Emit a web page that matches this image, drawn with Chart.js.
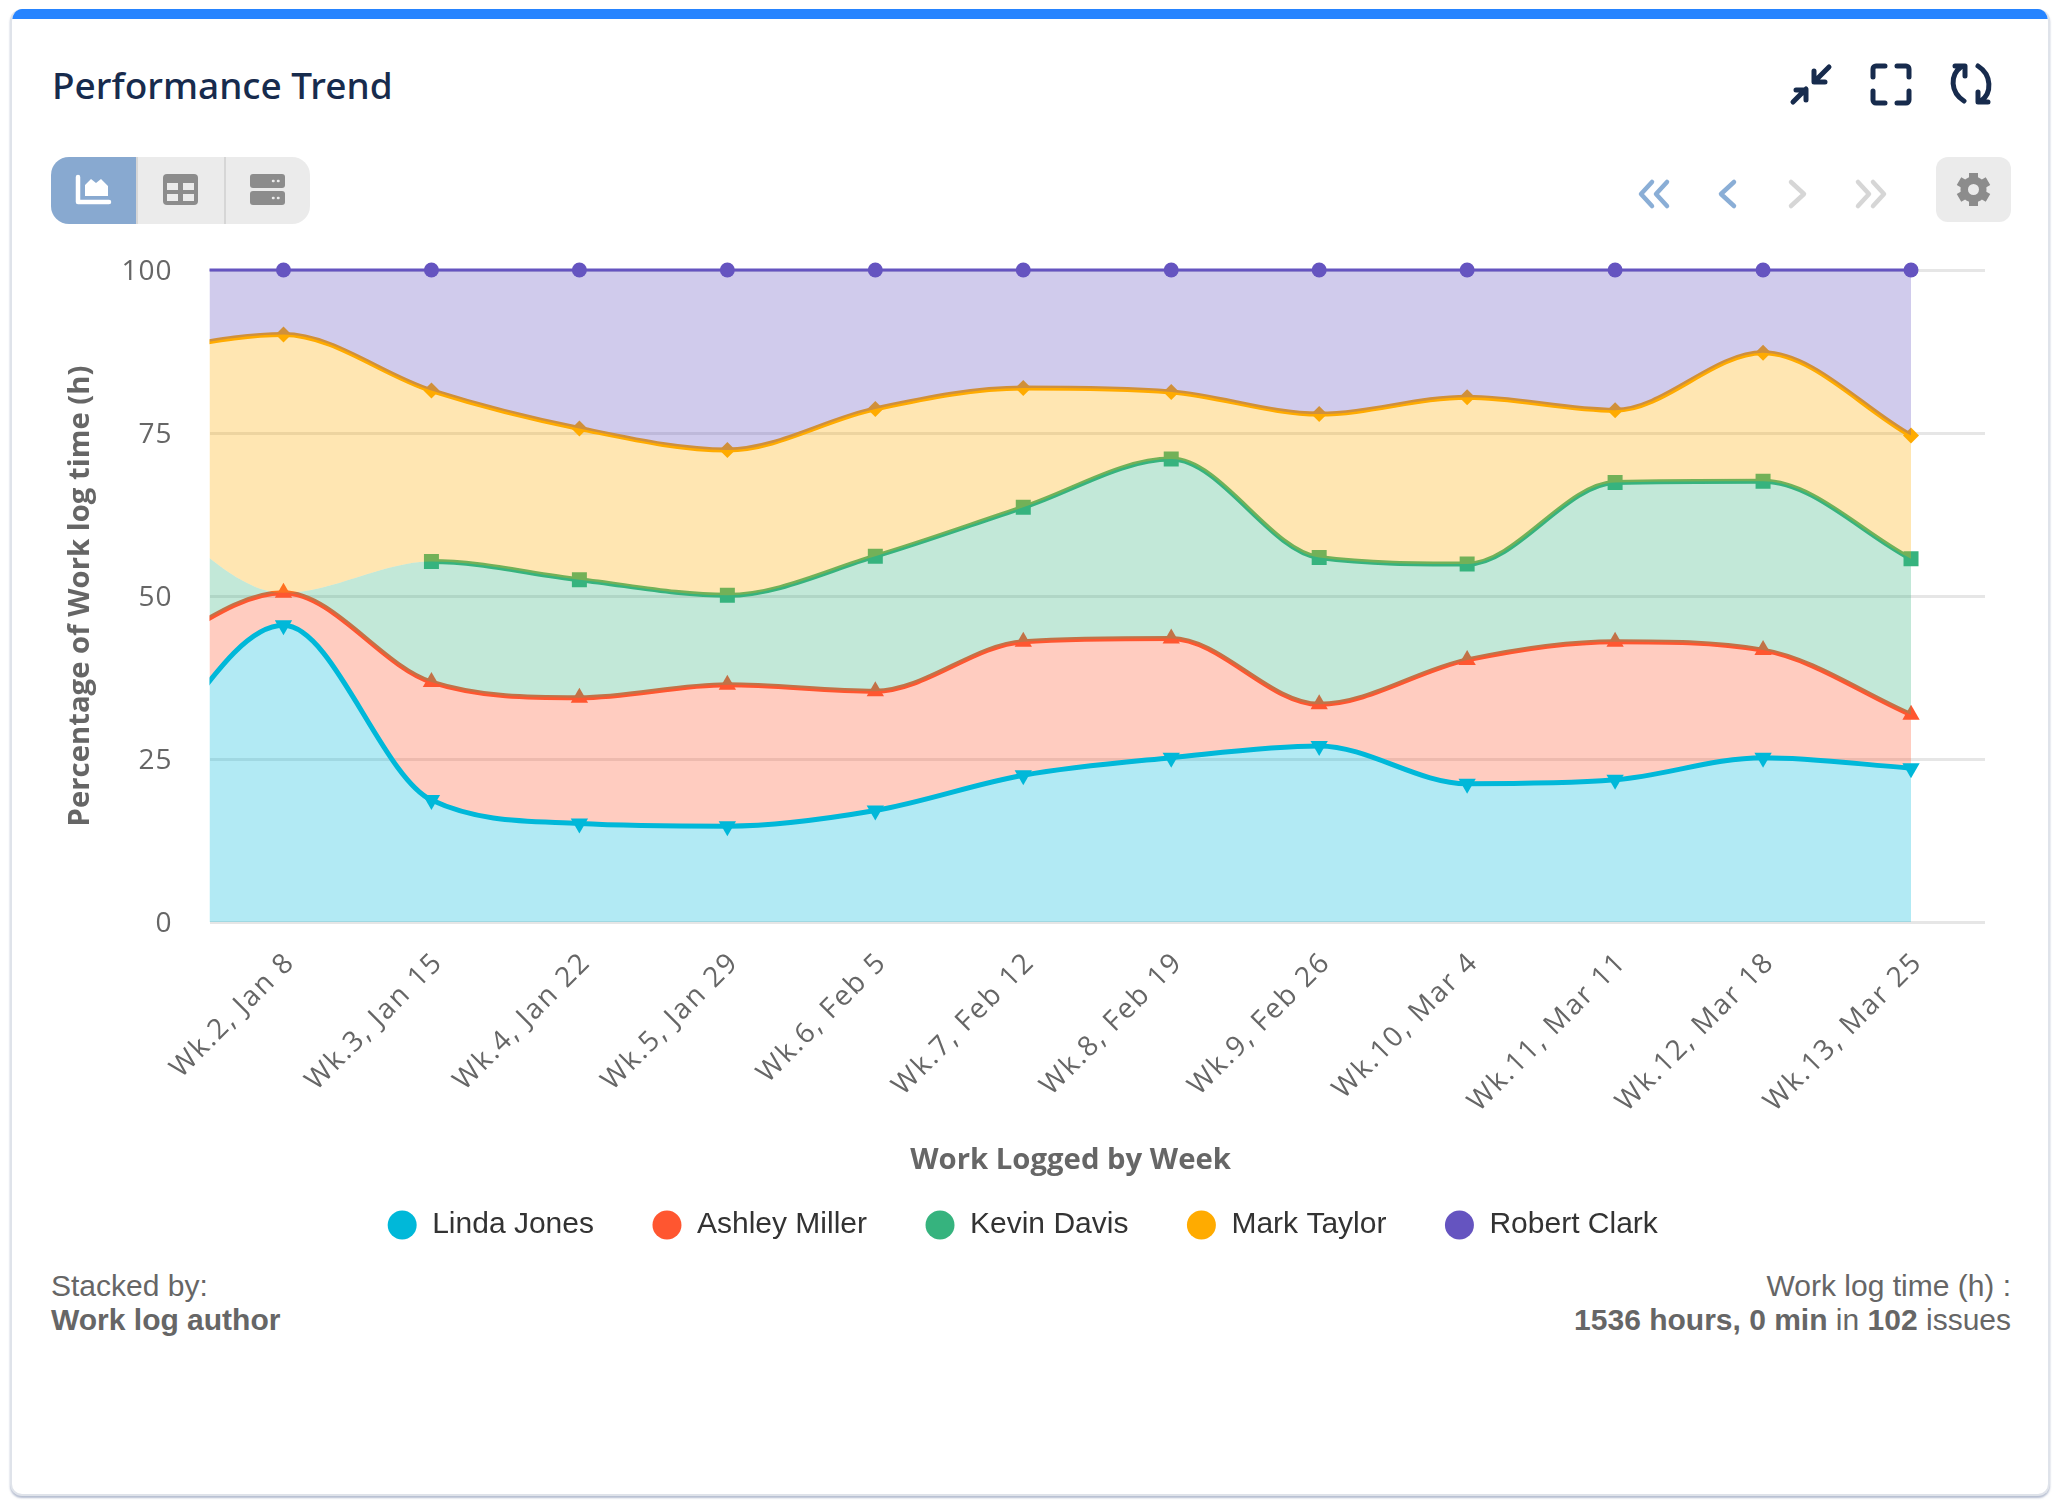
<!DOCTYPE html>
<html>
<head>
<meta charset="utf-8">
<title>Performance Trend</title>
<script src="https://cdn.jsdelivr.net/npm/chart.js@4/dist/chart.umd.min.js"></script>
<style>
  html, body { margin: 0; padding: 0; background: #fff; width: 2062px; height: 1508px; overflow: hidden; }
  body { position: relative; font-family: "Liberation Sans", Arial, sans-serif; }
  .card { position: absolute; left: 10px; top: 9px; width: 2040px; height: 1487px; box-sizing: border-box;
    background: #fff; border: 2px solid #dfe3ea; border-top: 0; border-radius: 12px; overflow: hidden;
    box-shadow: 0 2px 2px rgba(120,135,170,.55); }
  .card .band { height: 10px; background: #2684ff; margin: 0 -2px; }
  h1 { position: absolute; left: 52px; top: 60px; margin: 0; font: 500 37px/50px "Noto Sans", sans-serif; color: #172b4d; }
  .abs { position: absolute; }
  .seg { position: absolute; top: 157px; height: 67px; background: #ebebeb; box-sizing: border-box; }
  .foot { position: absolute; top: 1269px; font-size: 30px; line-height: 34px; color: #666; }
  #chart { position: absolute; left: 0; top: 0; }
</style>
</head>
<body>
<div class="card"><div class="band"></div></div>
<h1>Performance Trend</h1>

<div class="seg" style="left:51px;width:85px;background:#88a9d0;border-radius:18px 0 0 18px"></div>
<div class="seg" style="left:136px;width:88px;border-left:2px solid #d6d6d6"></div>
<div class="seg" style="left:224px;width:86px;border-left:2px solid #d6d6d6;border-radius:0 18px 18px 0"></div>
<div class="seg" style="left:1936px;width:75px;height:65px;border-radius:12px"></div>

<svg class="abs" style="left:0;top:0" width="2062" height="260" fill="none" stroke-linecap="round" stroke-linejoin="round">
  <!-- view switch -->
  <path d="M78 177v25h31" stroke="#fff" stroke-width="4.5"/>
  <path d="M85 196v-11l6-6 5 4 5-4 7 7v10z" fill="#fff"/>
  <rect x="163" y="174" width="35" height="31" rx="4" fill="#8c8c8c"/>
  <path d="M167 183h11v7h-11zM183 183h11v7h-11zM167 194h11v7h-11zM183 194h11v7h-11z" fill="#ebebeb"/>
  <rect x="250" y="174" width="35" height="14" rx="3" fill="#8c8c8c"/>
  <rect x="250" y="191" width="35" height="14" rx="3" fill="#8c8c8c"/>
  <path d="M273 181h.5M278 181h.5M273 198h.5M278 198h.5" stroke="#ebebeb" stroke-width="2.5"/>
  <!-- window icons -->
  <g stroke="#172b4d" stroke-width="5">
    <path d="M1829 67l-14 14M1814 71v11h11M1793 102l13-13M1806 100V90h-10" />
    <path d="M1873 77v-8a3 3 0 0 1 3-3h9M1897 66h9a3 3 0 0 1 3 3v8M1909 91v9a3 3 0 0 1-3 3h-9M1885 103h-9a3 3 0 0 1-3-3v-9"/>
    <path d="M1964 101c-14-9-14-26-3-34M1955 66h10v10M1978 66c14 9 14 27 3 35M1988 102h-10V92"/>
  </g>
  <!-- paging -->
  <g stroke-width="4.5">
    <path d="M1652 182l-11 12 11 12M1667 182l-11 12 11 12M1734 182l-13 12 13 12" stroke="#8aaed6"/>
    <path d="M1791 182l13 12-13 12M1858 182l11 12-11 12M1873 182l11 12-11 12" stroke="#d6d6d6"/>
  </g>
  <!-- settings -->
  <g stroke="#8c8c8c" stroke-width="9" stroke-linecap="butt">
    <path d="M1973.5 173v33M1959 181.200l29 16.600M1959 197.800l29-16.600"/>
  </g>
  <circle cx="1973.500" cy="189.500" r="13" fill="#8c8c8c"/>
  <circle cx="1973.500" cy="189.500" r="5.500" fill="#ebebeb"/>
</svg>

<canvas id="chart" width="2062" height="1250"></canvas>

<div class="foot" style="left:51px">Stacked by:<br><b>Work log author</b></div>
<div class="foot" style="right:51px;text-align:right">Work log time (h) :<br><b>1536 hours, 0 min</b> in <b>102</b> issues</div>

<script>
// first week is off the left edge of the plot, only its curve shows
const weeks = ['Wk.1, Jan 1', 'Wk.2, Jan 8', 'Wk.3, Jan 15', 'Wk.4, Jan 22', 'Wk.5, Jan 29', 'Wk.6, Feb 5', 'Wk.7, Feb 12',
  'Wk.8, Feb 19', 'Wk.9, Feb 26', 'Wk.10, Mar 4', 'Wk.11, Mar 11', 'Wk.12, Mar 18', 'Wk.13, Mar 25'];

// share of the week's logged time, percent
const lindaJones   = [22.8, 45.5, 18.7, 15.1, 14.7, 17.1, 22.5, 25.2, 27.0, 21.2, 21.8, 25.2, 23.6];
const ashleyMiller = [17.4,  5.0, 18.1, 19.3, 21.7, 18.3, 20.5, 18.3,  6.4, 19.0, 21.2, 16.5,  8.2];
const kevinDavis   = [24.5,  0.0, 18.5, 18.1, 13.7, 20.7, 20.6, 27.5, 22.5, 14.7, 24.4, 25.9, 23.9];
const markTaylor   = [22.5, 39.6, 26.2, 23.2, 22.3, 22.6, 18.3, 10.3, 22.0, 25.6, 11.1, 19.7, 18.9];
const robertClark  = [12.8,  9.9, 18.5, 24.3, 27.6, 21.3, 18.1, 18.7, 22.1, 19.5, 21.5, 12.7, 25.4];

const authors = ['Linda Jones', 'Ashley Miller', 'Kevin Davis', 'Mark Taylor', 'Robert Clark'];
const yTicks = [0, 25, 50, 75, 100];

const TICK_FONT = '"Open Sans", sans-serif';
const seriesValues = [lindaJones, ashleyMiller, kevinDavis, markTaylor, robertClark];
const colors = ['#00b8d9', '#ff5630', '#36b37e', '#ffab00', '#6554c0'];
const fills = ['rgba(0,184,217,.3)', 'rgba(255,86,48,.3)', 'rgba(54,179,126,.3)', 'rgba(255,171,0,.3)', 'rgba(101,84,192,.3)'];
const markers = ['triangle', 'triangle', 'rect', 'rectRot', 'circle'];
const markerSize = [10, 10, 10.6, 8, 7.5];
// higher is painted first: Ashley goes under Linda, the rest climb upwards
const paintOrder = [5, 6, 3, 2, 1];

// Kevin logged nothing until week 3, so his stroke only starts there
function kevinStroke(c) {
  const { chart } = c;
  if (!chart.chartArea) return colors[2];
  const x = chart.scales.x.getPixelForValue(2);
  const g = chart.ctx.createLinearGradient(x - 1, 0, x + 1, 0);
  g.addColorStop(0, 'rgba(54,179,126,0)');
  g.addColorStop(1, colors[2]);
  return g;
}

// tick text in the screenshot runs wider than the font and sits a bit off
function tweakLabels(scale, spacing, dx, dy) {
  if (scale._tweaked) return;
  scale._tweaked = true;
  const draw = scale.drawLabels;
  scale.drawLabels = function (area) {
    const ctx = this.ctx;
    ctx.save();
    ctx.letterSpacing = spacing;
    ctx.translate(dx, dy);
    draw.call(this, area);
    ctx.restore();
  };
}

// running total per week, so each author sits on the ones below.
// not using stacked:true because stacking follows draw order and the
// upper fills have to be painted over the lower lines
const running = weeks.map(() => 0);
const datasets = seriesValues.map((values, i) => {
  const data = values.map((v, w) => {
    running[w] += v;
    return +running[w].toFixed(1);
  });
  return {
    label: authors[i],
    data,
    order: paintOrder[i],
    borderColor: i === 2 ? kevinStroke : colors[i],
    backgroundColor: fills[i],
    borderWidth: i === 4 ? 3 : 5,
    fill: i === 0 ? 'origin' : '-1',
    cubicInterpolationMode: 'monotone',
    pointStyle: markers[i],
    pointRotation: i === 0 ? 180 : 0,
    pointRadius: (c) => (i === 2 && c.dataIndex <= 1) ? 0 : markerSize[i],
    pointBackgroundColor: colors[i],
    pointBorderWidth: 0,
    clip: i === 4 ? { left: 0, right: 0, top: 9, bottom: 0 } : 0
  };
});

new Chart(document.getElementById('chart'), {
  type: 'line',
  data: { labels: weeks, datasets },
  options: {
    responsive: false,
    devicePixelRatio: 1,
    animation: false,
    layout: { autoPadding: false, padding: { left: 60, right: 77, top: 270, bottom: 0 } },
    plugins: {
      tooltip: { enabled: false },
      legend: {
        position: 'bottom',
        labels: {
          usePointStyle: true,
          pointStyle: 'circle',
          boxWidth: 30,
          boxHeight: 20.5,
          padding: 58,
          color: '#333',
          font: { family: '"Liberation Sans", Arial, sans-serif', size: 30 },
          sort: (a, b) => a.datasetIndex - b.datasetIndex,
          generateLabels: (chart) => Chart.defaults.plugins.legend.labels.generateLabels(chart).map((item) => ({
            ...item,
            fillStyle: colors[item.datasetIndex],
            strokeStyle: colors[item.datasetIndex],
            lineWidth: 0
          }))
        }
      }
    },
    scales: {
      x: {
        min: weeks[1],
        offset: true,
        grid: { display: false },
        border: { display: false },
        afterFit: (s) => { s.height = 230; tweakLabels(s, '1.9px', 7, 0); },
        ticks: { color: '#666', autoSkip: false, minRotation: 45, maxRotation: 45, padding: 16, font: { family: TICK_FONT, size: 28 } },
        title: {
          display: true,
          // trailing spaces: the title sits left of the plot centre
          text: 'Work Logged by Week\u00a0\u00a0\u00a0\u00a0\u00a0\u00a0\u00a0',
          color: '#666',
          padding: { top: 0, bottom: -26 },
          font: { family: TICK_FONT, size: 29.3, weight: 'bold' }
        }
      },
      y: {
        min: 0,
        max: 100,
        afterFit: (s) => { s.width = 149.5; tweakLabels(s, '1px', 0, 2.5); },
        afterBuildTicks: (s) => { s.ticks = yTicks.map((value) => ({ value })); },
        grid: { color: '#e6e6e6', lineWidth: 3, drawTicks: false },
        border: { display: false },
        ticks: { color: '#666', padding: 37, font: { family: TICK_FONT, size: 28 } },
        title: {
          display: true,
          text: 'Percentage of Work log time (h)',
          color: '#666',
          padding: { top: 3, bottom: 0 },
          font: { family: TICK_FONT, size: 29.3, weight: 'bold' }
        }
      }
    }
  }
});
</script>
</body>
</html>
